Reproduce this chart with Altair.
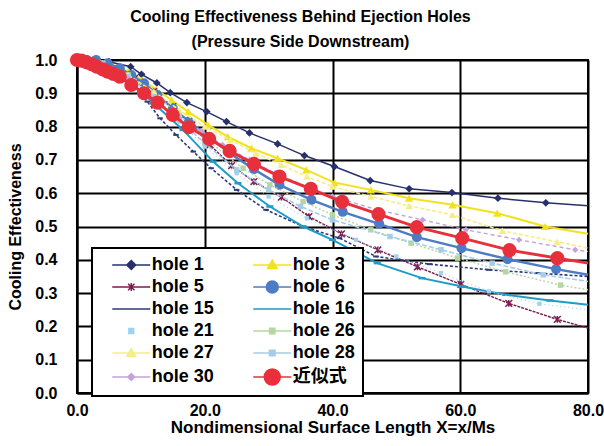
import altair as alt
import pandas as pd

SERIES = ["hole 1", "hole 3", "hole 5", "hole 6", "hole 15", "hole 16",
          "hole 21", "hole 26", "hole 27", "hole 28", "hole 30", "近似式"]
COLORS = ["#27306b", "#f2e21c", "#7b1d4f", "#4d7cc4", "#2e3a78", "#1e9cc9",
          "#9fd2ee", "#b5d6a3", "#f5ee88", "#a6cde6", "#c7a1dc", "#e8303c"]

X1 = [0, 2.5, 5, 8.4, 10.1, 12.5, 14.6, 17.2, 20.3, 23.4, 27.0, 31.4, 35.6, 40.3, 45.9, 52.0, 58.7, 65.9, 73.4, 80]
V1 = [1.0, 1.0, 0.995, 0.98, 0.957, 0.931, 0.902, 0.872, 0.845, 0.815, 0.781, 0.748, 0.713, 0.680, 0.638, 0.613, 0.602, 0.585, 0.571, 0.562]
X3 = [0, 2.5, 5, 8, 10.2, 12.4, 14.8, 17.4, 20.5, 23.6, 27.3, 31.4, 35.9, 40.3, 46.0, 52.0, 58.8, 65.8, 73.3, 80]
V3 = [1.0, 1.0, 0.99, 0.965, 0.94, 0.912, 0.88, 0.845, 0.805, 0.77, 0.735, 0.705, 0.67, 0.632, 0.61, 0.585, 0.565, 0.54, 0.5, 0.478]
X5 = [0, 3, 6, 9, 12, 15, 18, 20.8, 24.2, 27.7, 32.0, 36.3, 41.4, 47.1, 53.3, 60.1, 67.6, 75.2, 80]
V5 = [1.0, 0.995, 0.975, 0.945, 0.905, 0.86, 0.805, 0.745, 0.683, 0.635, 0.588, 0.53, 0.478, 0.43, 0.379, 0.326, 0.269, 0.221, 0.195]
X6 = [0, 1.5, 3, 4.8, 6.7, 8.5, 10.5, 12.6, 15.0, 17.5, 20.7, 23.9, 27.7, 31.7, 36.7, 41.6, 47.3, 53.2, 60.2, 67.4, 75.0, 80]
V6 = [1.0, 1.0, 1.0, 0.99, 0.975, 0.955, 0.93, 0.895, 0.855, 0.815, 0.768, 0.72, 0.672, 0.625, 0.58, 0.544, 0.508, 0.468, 0.435, 0.402, 0.372, 0.355]
X15 = [0, 3, 6, 9, 11, 13, 15.5, 18.2, 21, 25.0, 29.6, 35.4, 41.1, 46.8, 55.2, 64.5, 72, 80]
V15 = [1.0, 0.99, 0.965, 0.92, 0.875, 0.825, 0.775, 0.725, 0.675, 0.61, 0.55, 0.5, 0.465, 0.41, 0.387, 0.37, 0.36, 0.35]
X16 = [0, 4, 8, 12, 16.6, 21.3, 25.2, 30.2, 35.4, 40, 47, 54, 60.3, 67.1, 74, 80]
V16 = [1.0, 0.985, 0.94, 0.87, 0.79, 0.695, 0.63, 0.56, 0.5, 0.46, 0.39, 0.345, 0.32, 0.295, 0.278, 0.265]
X21 = [0, 4, 8, 12, 16, 20, 25, 30, 36, 43.7, 50, 57, 64.5, 72.4, 80]
V21 = [1.0, 0.985, 0.945, 0.885, 0.815, 0.74, 0.66, 0.59, 0.525, 0.46, 0.41, 0.36, 0.305, 0.268, 0.25]
X26 = [0, 4, 8, 12, 16, 20, 26, 30.2, 35.4, 40, 46, 52.3, 59.6, 67.1, 75.7, 80]
V26 = [1.0, 0.99, 0.955, 0.9, 0.835, 0.765, 0.675, 0.625, 0.575, 0.535, 0.49, 0.45, 0.405, 0.364, 0.324, 0.31]
X27 = [0, 4, 8, 12, 16, 20, 24, 28, 32, 36, 40, 46, 52, 58.8, 66.6, 75.2, 80]
V27 = [1.0, 0.99, 0.955, 0.905, 0.85, 0.8, 0.76, 0.72, 0.685, 0.65, 0.62, 0.59, 0.562, 0.535, 0.487, 0.454, 0.435]
X28 = [0, 4, 8, 12, 16, 20, 25, 30, 35, 40, 49, 57, 65, 73, 80]
V28 = [1.0, 0.99, 0.95, 0.89, 0.82, 0.75, 0.67, 0.61, 0.56, 0.52, 0.47, 0.43, 0.39, 0.355, 0.335]
X30 = [0, 4, 8, 12, 16, 19.5, 22.8, 27, 31, 36, 40, 47, 54.1, 60.9, 69.2, 78, 80]
V30 = [1.0, 0.985, 0.945, 0.885, 0.825, 0.787, 0.745, 0.7, 0.66, 0.62, 0.59, 0.55, 0.52, 0.49, 0.46, 0.43, 0.425]
XA = [0, 0.7, 1.5, 2.3, 3.1, 4.0, 4.8, 5.7, 6.7, 8.5, 10.5, 12.6, 15.0, 17.5, 20.7, 23.9, 27.7, 31.7, 36.6, 41.5, 47.2, 53.2, 60.3, 67.7, 75.2, 80]
VA = [1.0, 0.998, 0.993, 0.987, 0.98, 0.972, 0.965, 0.958, 0.95, 0.925, 0.9, 0.872, 0.835, 0.798, 0.763, 0.727, 0.688, 0.65, 0.613, 0.574, 0.537, 0.498, 0.465, 0.429, 0.405, 0.39]

XS = [X1, X3, X5, X6, X15, X16, X21, X26, X27, X28, X30, XA]
VS = [V1, V3, V5, V6, V15, V16, V21, V26, V27, V28, V30, VA]

# line styles: width, dash
LINE_W = [1.5, 2, 1.4, 2.5, 1.6, 2, 1.2, 1.4, 1.6, 1.6, 1.4, 3]
LINE_D = [None, None, [3, 1], None, [3, 2], None, [1, 3], [2, 2], [4, 2], [5, 2], [4, 3], None]
# chart markers: shape, filled, size, strokeWidth
ASTER = "M-1,-1L1,1M-1,1L1,-1M0,-1L0,1"
DASH = "M-1,0L1,0"
MARKS = [("diamond", True, 60, 1), ("triangle-up", True, 70, 1), (ASTER, False, 45, 1.5),
         ("circle", True, 100, 1), (DASH, False, 30, 2), (DASH, False, 50, 2.5),
         ("square", True, 18, 1), ("square", True, 30, 1), ("triangle-up", True, 55, 1),
         ("square", True, 30, 1), ("diamond", True, 40, 1), ("circle", True, 200, 1)]
# legend symbols: line + marker (unit = 8 px)
LN = "M-2.375,0L2.375,0"
LEG_PATHS = [
    LN + "M0,-0.56L0.56,0L0,0.56L-0.56,0Z",
    LN + "M0,-0.6L0.6,0.45L-0.6,0.45Z",
    LN + "M-0.4,-0.4L0.4,0.4M-0.4,0.4L0.4,-0.4M0,-0.5L0,0.5",
    LN + "M-0.75,0A0.75,0.75,0,1,0,0.75,0A0.75,0.75,0,1,0,-0.75,0Z",
    LN + "M-0.45,0L0.45,0",
    LN + "M-0.45,0L0.45,0",
    "M-0.3,-0.3L0.3,-0.3L0.3,0.3L-0.3,0.3Z",
    LN + "M-0.33,-0.33L0.33,-0.33L0.33,0.33L-0.33,0.33Z",
    LN + "M0,-0.55L0.55,0.42L-0.55,0.42Z",
    LN + "M-0.35,-0.35L0.35,-0.35L0.35,0.35L-0.35,0.35Z",
    LN + "M0,-0.42L0.42,0L0,0.42L-0.42,0Z",
    LN + "M-1,0A1,1,0,1,0,1,0A1,1,0,1,0,-1,0Z",
]

rows = []
for name, xs, vs in zip(SERIES, XS, VS):
    for i, (x, v) in enumerate(zip(xs, vs)):
        rows.append({"series": name, "X": x, "V": v, "i": i})
df = pd.DataFrame(rows)

FONT = "Liberation Sans"
xenc = alt.X("X:Q", scale=alt.Scale(domain=[0, 80], nice=False),
             axis=alt.Axis(values=[0, 20, 40, 60, 80], format=".1f",
                           title="Nondimensional Surface Length X=x/Ms",
                           labelFont=FONT, labelFontSize=16, labelFontWeight="bold",
                           labelColor="black", labelPadding=9, labelFlush=False,
                           ticks=False, tickSize=0,
                           titleFont=FONT, titleFontSize=17, titleFontWeight="bold",
                           titleColor="black", titleX=255.5, titleY=34,
                           titleBaseline="middle", titleAlign="center",
                           grid=True, gridColor="black", gridWidth=2,
                           domainColor="black", domainWidth=2))
yenc = alt.Y("V:Q", scale=alt.Scale(domain=[0, 1], nice=False),
             axis=alt.Axis(values=[round(0.1 * k, 1) for k in range(11)], format=".1f",
                           title="Cooling Effectiveness",
                           labelFont=FONT, labelFontSize=16, labelFontWeight="bold",
                           labelColor="black", labelPadding=20,
                           ticks=False, tickSize=0,
                           titleFont=FONT, titleFontSize=16, titleFontWeight="bold",
                           titleColor="black", titleX=-62, titleY=166.5,
                           titleBaseline="middle", titleAlign="center",
                           grid=True, gridColor="black", gridWidth=2,
                           domainColor="black", domainWidth=2))

base = alt.Chart(df)
layers = []
for k, s in enumerate(SERIES):
    lkw = dict(color=COLORS[k], strokeWidth=LINE_W[k])
    if LINE_D[k] is not None:
        lkw["strokeDash"] = LINE_D[k]
    layers.append(base.transform_filter(alt.datum.series == s)
                  .mark_line(**lkw).encode(x=xenc, y=yenc, order="i:Q"))
    shp, filled, size, sw = MARKS[k]
    layers.append(base.transform_filter((alt.datum.series == s) & (alt.datum.X < 79.5))
                  .mark_point(shape=shp, filled=filled, size=size, color=COLORS[k],
                              strokeWidth=sw, opacity=1)
                  .encode(x=xenc, y=yenc))

LEG_SIZE = 256
leg = alt.Legend(orient="none", legendX=15, legendY=188, columns=2, direction="horizontal",
                 title=None,
                 labelFont=FONT + ", Noto Sans CJK JP", labelFontSize=18,
                 labelFontWeight="bold", labelColor="black", labelOffset=11.5,
                 symbolSize=LEG_SIZE, symbolStrokeWidth=1.5, symbolOffset=22.25,
                 fillColor="white", strokeColor="black", padding=8,
                 rowPadding=4, columnPadding=27)
legend_layer = (base.transform_filter(alt.datum.X < -1)
                .mark_point(filled=True, size=LEG_SIZE, opacity=1)
                .encode(x=xenc, y=yenc,
                        fill=alt.Fill("series:N", scale=alt.Scale(domain=SERIES, range=COLORS), legend=leg),
                        stroke=alt.Stroke("series:N", scale=alt.Scale(domain=SERIES, range=COLORS), legend=leg),
                        shape=alt.Shape("series:N", scale=alt.Scale(domain=SERIES, range=LEG_PATHS), legend=leg)))
layers.append(legend_layer)

chart = alt.layer(*layers).properties(
    width=511, height=333,
    autosize=alt.AutoSizeParams(type="none"),
    padding={"left": 77, "top": 60, "right": 16, "bottom": 53},
    title=alt.Title(["Cooling Effectiveness Behind Ejection Holes", "(Pressure Side Downstream)"],
                    font=FONT, fontSize=16, fontWeight="bold", color="black",
                    lineHeight=25, anchor="middle", dx=-32, offset=2),
).configure_view(stroke="black", strokeWidth=2).configure_legend(strokeWidth=2)

chart.save("out.html", embed_options={"renderer": "svg", "actions": False})
